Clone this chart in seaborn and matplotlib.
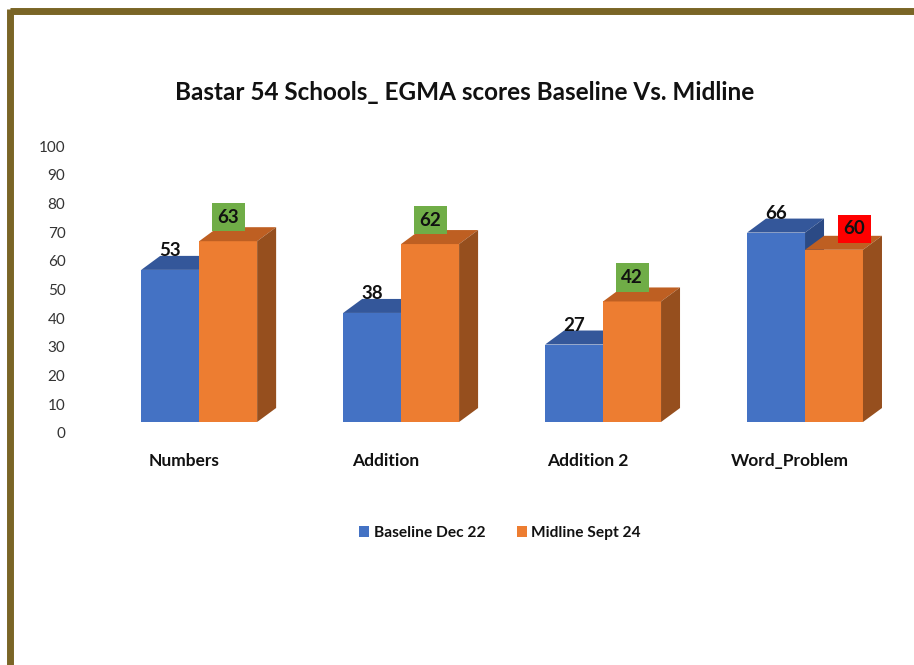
import matplotlib
matplotlib.use("Agg")
import matplotlib.pyplot as plt
import matplotlib.transforms as mtransforms
from matplotlib.patches import Polygon
from matplotlib.lines import Line2D
import seaborn as sns
import pandas as pd

categories = ["Numbers", "Addition", "Addition 2", "Word_Problem"]
series_names = ["Baseline Dec 22", "Midline Sept 24"]
baseline = [53, 38, 27, 66]
midline = [63, 62, 42, 60]
yticks = [0, 10, 20, 30, 40, 50, 60, 70, 80, 90, 100]
title = "Bastar 54 Schools_ EGMA scores Baseline Vs. Midline"

front = ["#4472C4", "#ED7D31"]
top_c = ["#34579A", "#BE5F22"]
side_c = ["#2B4A85", "#964F1E"]

sns.set_theme(style="white")
plt.rcParams["font.family"] = ["Lato", "DejaVu Sans"]

df = pd.DataFrame({
    "category": categories * 2,
    "series": [series_names[0]] * 4 + [series_names[1]] * 4,
    "value": baseline + midline,
})

W, H, DPI = 914, 665, 100
fig = plt.figure(figsize=(W / DPI, H / DPI), dpi=DPI)
left_px, right_px = 78, 906
bot_px, top_px = H - 422, H - 135
ax = fig.add_axes([left_px / W, bot_px / H, (right_px - left_px) / W, (top_px - bot_px) / H])

sns.barplot(data=df, x="category", y="value", hue="series", palette=front,
            saturation=1, width=0.574, linewidth=0, ax=ax, order=categories,
            hue_order=series_names)
ax.set_xlim(-0.6, 3.5)
ax.set_ylim(0, 100)

px_x = (right_px - left_px) / 4.1
px_y = (top_px - bot_px) / 100.0
dx = 19 / px_x
dy = 14 / px_y

bars = sorted([p for p in ax.patches if p.get_height() > 0], key=lambda p: p.get_x())
for i, p in enumerate(bars):
    s = i % 2
    x0 = p.get_x(); w = p.get_width(); h = p.get_height(); x1 = x0 + w
    z = 2 + i * 3
    p.set_zorder(z)
    ax.add_patch(Polygon([(x0, h), (x0 + dx, h + dy), (x1 + dx, h + dy), (x1, h)],
                         closed=True, facecolor=top_c[s], edgecolor="none", zorder=z + 1, clip_on=False))
    ax.add_patch(Polygon([(x1, 0), (x1 + dx, dy), (x1 + dx, h + dy), (x1, h)],
                         closed=True, facecolor=side_c[s], edgecolor="none", zorder=z + 1, clip_on=False))
    cx = x0 + w / 2
    cat = i // 2
    if s == 0:
        ax.text(cx, h + 19 / px_y, f"{h:.0f}", ha="center", va="center", fontsize=13.5,
                fontweight="bold", color="#111111", zorder=40)
    else:
        better = midline[cat] >= baseline[cat]
        col = "#70AD47" if better else "#FF0000"
        off_x = 0 if better else 20 / px_x
        off_y = 24 if better else 21
        ax.text(cx + off_x, h + off_y / px_y, f"{h:.0f}", ha="center", va="center", fontsize=13.5,
                fontweight="bold", color="#111111", zorder=40,
                bbox=dict(boxstyle="square,pad=0.3", facecolor=col, edgecolor="none"))

for sp in ax.spines.values():
    sp.set_visible(False)
ax.set_xlabel("")
ax.set_ylabel("")
ax.set_yticks(yticks)
ax.set_yticklabels([str(v) for v in yticks], fontsize=11, color="#333333")
ax.tick_params(axis="y", length=0, pad=9)
ax.tick_params(axis="x", length=0, pad=22)
ax.set_xticks(range(len(categories)))
ax.set_xticklabels(categories, fontsize=12.5, fontweight="bold", color="#111111")
offy = mtransforms.ScaledTranslation(0, -11 / DPI, fig.dpi_scale_trans)
for lab in ax.get_yticklabels():
    lab.set_transform(lab.get_transform() + offy)
offx = mtransforms.ScaledTranslation(-15 / DPI, 0, fig.dpi_scale_trans)
for lab in ax.get_xticklabels():
    lab.set_transform(lab.get_transform() + offx)

sns.move_legend(ax, "center", bbox_to_anchor=(500 / W, 1 - 533 / H),
                bbox_transform=fig.transFigure, ncol=2, frameon=False, title=None,
                fontsize=11.2, handlelength=0.65, handleheight=0.65, handletextpad=0.3,
                columnspacing=2.0)
for t in ax.get_legend().get_texts():
    t.set_fontweight("bold")
    t.set_color("#111111")

fig.text(465 / W, 1 - 93 / H, title, ha="center", va="center", fontsize=17.5,
         fontweight="bold", color="#111111")

bc = "#7A6526"
fig.add_artist(Line2D([10 / W, 1], [1 - 11 / H, 1 - 11 / H], color=bc, linewidth=5,
                      transform=fig.transFigure, solid_capstyle="butt"))
fig.add_artist(Line2D([10 / W, 10 / W], [0, 1 - 8.5 / H], color=bc, linewidth=5,
                      transform=fig.transFigure, solid_capstyle="butt"))

fig.savefig("out.png", dpi=DPI)
